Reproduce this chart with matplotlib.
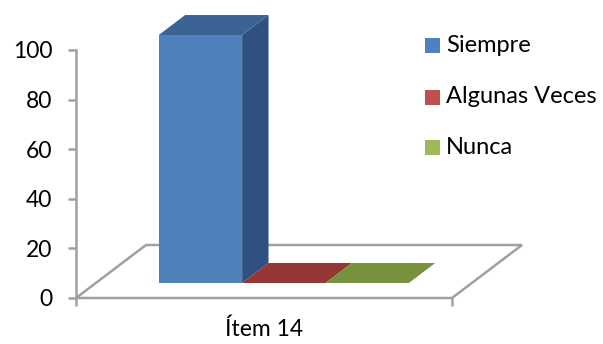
import matplotlib
matplotlib.use("Agg")
import matplotlib.pyplot as plt
from matplotlib.patches import Polygon, Rectangle

# ---- data ----
categories = ["Ítem 14"]
series_names = ["Siempre", "Algunas Veces", "Nunca"]
series_values = [100, 0, 0]
yticks = [0, 20, 40, 60, 80, 100]

# ---- style ----
front_colors = ["#4F81BD", "#C0504D", "#9BBB59"]
top_colors = ["#3B6494", "#943634", "#76923C"]
side_colors = ["#2F5080", "#7A2C2A", "#5F7730"]
grid_gray = "#A0A0A0"
plt.rcParams['font.family'] = ['Lato', 'DejaVu Sans']

W, H = 603, 344
fig = plt.figure(figsize=(W / 100, H / 100), dpi=100)
ax = fig.add_axes([76 / W, (H - 298) / H, 376 / W, 248 / H])
ax.set_xlim(0, 1)
ax.set_ylim(0, 100)

# depth projection (data units per unit depth)
DX = 70 / 376
DY = 53 / 2.48


def proj(x, y, d):
    return (x + d * DX, y + d * DY)


# floor
floor = Polygon([proj(0, 0, 0), proj(1, 0, 0), proj(1, 0, 1), proj(0, 0, 1)],
                closed=True, facecolor="white", edgecolor=grid_gray, lw=1.8,
                clip_on=False, zorder=1)
ax.add_patch(floor)

# bars
n = len(series_values)
total = 0.665
w = total / n
d1, d2 = 0.283, 0.66
for i, v in enumerate(series_values):
    x0 = 0.5 - total / 2 + i * w
    x1 = x0 + w
    z = 3 + i
    if v > 0:
        ax.add_patch(Polygon([proj(x1, 0, d1), proj(x1, 0, d2), proj(x1, v, d2), proj(x1, v, d1)],
                             closed=True, facecolor=side_colors[i], edgecolor="none",
                             clip_on=False, zorder=z))
        ax.add_patch(Polygon([proj(x0, 0, d1), proj(x1, 0, d1), proj(x1, v, d1), proj(x0, v, d1)],
                             closed=True, facecolor=front_colors[i], edgecolor="none",
                             clip_on=False, zorder=z))
    ax.add_patch(Polygon([proj(x0, v, d1), proj(x1, v, d1), proj(x1, v, d2), proj(x0, v, d2)],
                         closed=True, facecolor=top_colors[i], edgecolor="none",
                         clip_on=False, zorder=z))

# axes
for s in ["top", "right", "bottom"]:
    ax.spines[s].set_visible(False)
ax.spines["left"].set_color(grid_gray)
ax.spines["left"].set_linewidth(1.8)
ax.set_yticks(yticks)
ax.set_yticklabels([str(t) for t in yticks], fontsize=16.5)
ax.tick_params(axis="y", length=6, width=1.8, color=grid_gray, pad=11)
ax.set_xticks([0, 1])
ax.set_xticklabels(["", ""])
ax.tick_params(axis="x", length=6, width=1.8, color=grid_gray)
ax.text(0.5, -12.5, categories[0], ha="center", va="center", fontsize=16.5, clip_on=False)

# legend (manual)
leg_y = [45, 97, 147]
for name, col, yp in zip(series_names, front_colors, leg_y):
    fig.patches.append(Rectangle((425 / W, (H - yp - 7.5) / H), 15 / W, 15 / H,
                                 facecolor=col, edgecolor="none",
                                 transform=fig.transFigure, figure=fig))
    fig.text(446 / W, (H - yp) / H, name, ha="left", va="center", fontsize=17)

fig.savefig("out.png", dpi=100)
